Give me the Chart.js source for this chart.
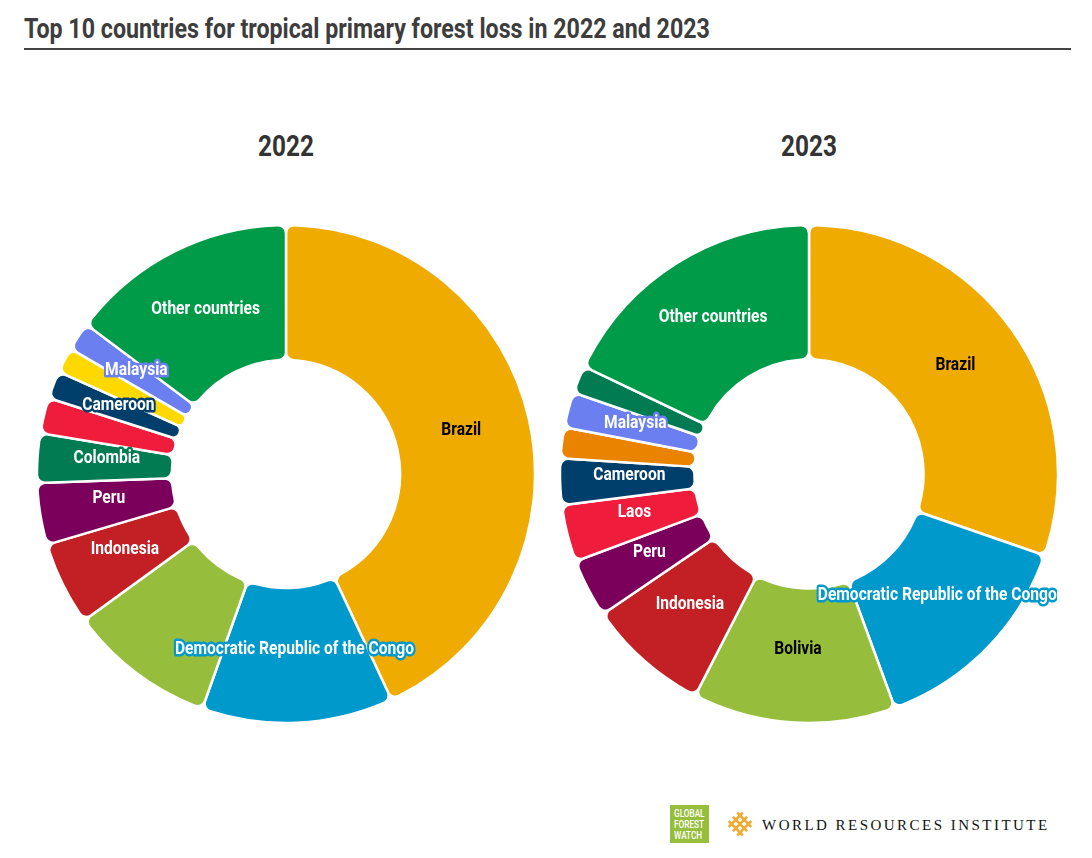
<!DOCTYPE html>
<html>
<head>
<meta charset="utf-8">
<script src="https://cdn.jsdelivr.net/npm/chart.js@4"></script>
<style>
  html, body { margin: 0; padding: 0; background: #fff; }
  body { width: 1092px; height: 858px; position: relative; overflow: hidden; font-family: Roboto, sans-serif; }
  .abs { position: absolute; white-space: nowrap; }
  #pageTitle { left: 24px; top: 12px; font-size: 27px; line-height: 34px; font-weight: 700; color: #3d3d3d; transform: scaleX(0.86); transform-origin: left center; }
  #rule { left: 24px; top: 48px; width: 1047px; height: 2px; background: #444; }
  .year { top: 128px; width: 120px; text-align: center; font-size: 29px; line-height: 36px; font-weight: 700; color: #333; transform: scaleX(0.84); }
  #wrap2022 { left: 37px; top: 219px; width: 498px; height: 510px; }
  #wrap2023 { left: 561px; top: 219px; width: 496px; height: 510px; }
  #gfw { left: 670px; top: 805px; width: 39px; height: 38px; background: #97bd3d; color: #fff; font-size: 10px; line-height: 11px; font-weight: 500; }
  #gfw span { display: block; padding: 3px 0 0 5px; transform: scaleX(0.82); transform-origin: left top; }
  #wri { left: 762px; top: 815px; font-family: "Liberation Serif", serif; font-size: 15px; line-height: 20px; letter-spacing: 2.47px; color: #111; }
</style>
</head>
<body>
<div class="abs" id="pageTitle">Top 10 countries for tropical primary forest loss in 2022 and 2023</div>
<div class="abs" id="rule"></div>
<div class="abs year" style="left:226px">2022</div>
<div class="abs year" style="left:749px">2023</div>
<div class="abs" id="wrap2022"><canvas id="chart2022"></canvas></div>
<div class="abs" id="wrap2023"><canvas id="chart2023"></canvas></div>
<div class="abs" id="gfw"><span>GLOBAL<br>FOREST<br>WATCH</span></div>
<svg class="abs" style="left:727px;top:811px" width="26" height="26" viewBox="0 0 26 26">
  <g transform="rotate(45 13 13)" stroke="#f2a92f" stroke-width="2.6" fill="none">
    <path d="M3 7H23M3 13H23M3 19H23M7 3V23M13 3V23M19 3V23"/>
  </g>
</svg>
<div class="abs" id="wri">WORLD RESOURCES INSTITUTE</div>

<script>
// categories, the blank ones have no label in the picture
const categories2022 = ['Brazil', 'Democratic Republic of the Congo', '', 'Indonesia', 'Peru', 'Colombia', '', 'Cameroon', '', 'Malaysia', 'Other countries'];
const categories2023 = ['Brazil', 'Democratic Republic of the Congo', 'Bolivia', 'Indonesia', 'Peru', 'Laos', 'Cameroon', '', 'Malaysia', '', 'Other countries'];

// share of the ring
const values2022 = [43.0, 12.4, 9.55, 5.4, 4.0, 3.2, 2.3, 1.8, 1.65, 1.85, 14.75];
const values2023 = [30.3, 14.1, 13.15, 7.95, 3.8, 3.7, 3.0, 2.0, 2.3, 1.8, 17.9];

const colors2022 = ['#f0ab00', '#0099cc', '#97bd3d', '#c32026', '#7b005c', '#007b52', '#ef1c3b', '#003f6b', '#ffd800', '#6b7ff0', '#009b48'];
const colors2023 = ['#f0ab00', '#0099cc', '#97bd3d', '#c32026', '#7b005c', '#ef1c3b', '#003f6b', '#e98300', '#6b7ff0', '#007b52', '#009b48'];
const darkTextLabels = ['Brazil', 'Bolivia'];

const sliceLabels = {
    id: 'sliceLabels',
    afterDatasetsDraw(chart) {
        const ctx = chart.ctx;
        const ds = chart.data.datasets[0];
        chart.getDatasetMeta(0).data.forEach((arc, i) => {
            const text = chart.data.labels[i];
            if (!text) return;
            const p = arc.getCenterPoint();
            // labels sit a little inside the middle of the ring
            const dx = p.x - arc.x, dy = p.y - arc.y;
            const pull = 1 - 2 / Math.hypot(dx, dy);
            const dark = darkTextLabels.includes(text);
            ctx.save();
            ctx.translate(arc.x + dx * pull, arc.y + dy * pull - 4.5);
            ctx.scale(0.82, 1);
            ctx.font = '700 19px Roboto';
            ctx.textAlign = 'center';
            ctx.textBaseline = 'middle';
            ctx.lineJoin = 'round';
            if (!dark) {
                ctx.strokeStyle = ds.backgroundColor[i];
                ctx.lineWidth = 5;
                ctx.strokeText(text, 0, 0);
            }
            ctx.fillStyle = dark ? '#000' : '#fff';
            ctx.fillText(text, 0, 0);
            ctx.restore();
        });
    }
};

function drawDonut(id, labels, values, colors) {
    new Chart(document.getElementById(id), {
        type: 'doughnut',
        data: { labels: labels, datasets: [{ data: values, backgroundColor: colors, borderColor: '#fff', borderWidth: 2.5, borderRadius: 8 }] },
        options: {
            responsive: true,
            maintainAspectRatio: false,
            animation: false,
            radius: 249,
            cutout: 113.5,
            plugins: { legend: { display: false }, tooltip: { enabled: false } }
        },
        plugins: [sliceLabels]
    });
}

drawDonut('chart2022', categories2022, values2022, colors2022);
drawDonut('chart2023', categories2023, values2023, colors2023);
</script>
</body>
</html>
